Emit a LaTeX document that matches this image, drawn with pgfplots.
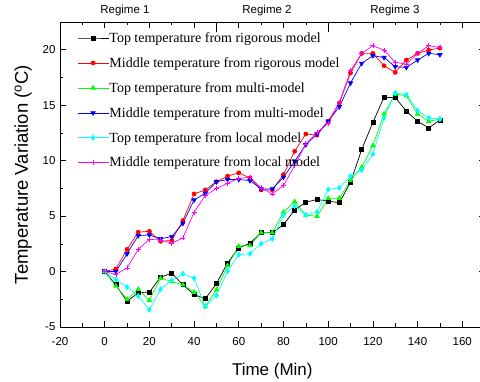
\documentclass[border=0pt]{standalone}
\usepackage{fontspec}
\setmainfont{Liberation Sans}
\newfontfamily\legfont{Liberation Serif}
\usepackage{pgfplots}
\pgfplotsset{compat=1.18}
\definecolor{cyanA}{RGB}{0,255,255}
\definecolor{magA}{RGB}{255,0,255}
\definecolor{greenA}{RGB}{0,255,0}
\definecolor{redA}{RGB}{255,0,0}
\definecolor{blueA}{RGB}{0,0,255}
\pgfplotstableread{
t black red green blue cyan magenta
0 0 0 0 0 0 0
5 -1.2 0.24 -1.3 0 -0.72 -0.27
10 -2.7 2.0 -2.5 1.6 -1.4 0.33
15 -1.9 3.55 -1.6 3.24 -2.2 2.0
20 -1.86 3.63 -2.6 3.3 -3.45 2.9
25 -0.5 2.73 -0.6 2.95 -1.6 2.85
30 -0.15 2.8 -0.9 3.15 -0.8 2.55
35 -1.2 4.6 -1.2 4.35 -0.2 3.03
40 -2.07 7.0 -1.86 6.45 -0.6 5.35
45 -2.46 7.36 -3.15 7.05 -3.15 6.85
50 -1.1 8.1 -1.65 8.1 -2.16 7.5
55 0.78 8.6 0.54 8.3 0.03 7.95
60 2.13 8.9 2.28 8.3 1.53 8.4
65 2.55 8.44 2.35 8.2 1.6 8.5
70 3.5 7.36 3.5 7.45 2.5 7.54
75 3.5 7.36 3.5 7.45 2.95 7.0
80 4.23 8.74 5.35 8.5 5.1 7.75
85 5.55 10.84 6.3 9.94 5.9 9.55
90 6.25 12.4 5.1 11.44 5.1 11.5
95 6.5 12.3 4.98 12.4 5.35 12.55
100 6.35 13.55 6.6 13.55 7.4 13.36
105 6.2 15.2 6.6 14.86 7.55 15.25
110 8.05 17.9 8.2 17.0 8.6 18.1
115 11.0 19.67 9.4 18.77 9.15 19.67
120 13.45 19.67 11.35 19.46 10.6 20.36
125 15.7 18.56 14.2 19.3 13.85 19.97
130 15.7 17.96 16.0 18.47 16.1 18.86
135 14.45 19.07 15.85 18.4 15.95 18.7
140 13.55 19.67 14.2 19.07 14.5 19.67
145 12.95 19.97 13.55 19.67 13.85 20.36
150 13.65 20.15 13.75 19.55 13.75 20.2
}\data
\begin{document}
\begin{tikzpicture}
\useasboundingbox (-60pt,-55pt) rectangle (420pt,327pt);
\begin{axis}[
  at={(0pt,0pt)}, anchor=south west,
  scale only axis, width=424.6pt, height=305pt,
  xmin=-20, xmax=170, ymin=-5, ymax=22.5,
  clip=false,
  xtick={-20,0,...,160}, minor xtick={-10,10,...,170},
  ytick={-5,0,...,20}, minor ytick={-2.5,2.5,...,22.5},
  tick align=inside, major tick length=6pt, minor tick length=3.5pt,
  axis line style={line width=0.8pt}, tick style={line width=0.6pt, black},
  /pgf/number format/assume math mode=true,
  ticklabel style={font=\fontsize{11.5}{11.5}\selectfont},
  xticklabel style={yshift=-7pt},
  yticklabel style={xshift=-1pt},
  xlabel={Time (Min)}, ylabel={Temperature Variation (\textsuperscript{o}C)},
  xlabel style={font=\fontsize{17}{17}\selectfont, yshift=-11pt},
  ylabel style={font=\fontsize{18.5}{18.5}\selectfont, yshift=4pt},
  every axis plot/.append style={line width=0.7pt, mark size=2pt},
  legend style={at={(0.033,0.975)}, anchor=north west, draw=none, fill=none,
    font=\legfont\fontsize{14}{14}\selectfont, row sep=12.6pt, nodes={inner sep=0.5pt}},
  legend cell align=left,
  legend image code/.code={\draw[mark repeat=2,mark phase=2] plot coordinates {(0pt,0pt) (15.5pt,0pt) (31pt,0pt)};},
]
\addplot[black, mark=square*] table[x=t,y=black]{\data};
\addlegendentry{Top temperature from rigorous model}
\addplot[redA, mark=*] table[x=t,y=red]{\data};
\addlegendentry{Middle temperature from rigorous model}
\addplot[greenA, mark=triangle*, mark size=2.5pt] table[x=t,y=green]{\data};
\addlegendentry{Top temperature from multi-model}
\addplot[blueA, mark=triangle*, mark size=2.5pt, every mark/.append style={rotate=180}] table[x=t,y=blue]{\data};
\addlegendentry{Middle temperature from multi-model}
\addplot[cyanA, mark=diamond*, mark size=2.5pt] table[x=t,y=cyan]{\data};
\addlegendentry{Top temperature from local model}
\addplot[magA, mark=+, mark size=2.5pt] table[x=t,y=magenta]{\data};
\addlegendentry{Middle temperature from local model}
\draw[line width=0.6pt] (axis cs:50,22.5) -- ++(0pt,-10pt);
\draw[line width=0.6pt] (axis cs:100,22.5) -- ++(0pt,-10pt);
\node[font=\fontsize{11.5}{11.5}\selectfont] at ([yshift=11pt]rel axis cs:0.153,1) {Regime 1};
\node[font=\fontsize{11.5}{11.5}\selectfont] at ([yshift=11pt]rel axis cs:0.4875,1) {Regime 2};
\node[font=\fontsize{11.5}{11.5}\selectfont] at ([yshift=11pt]rel axis cs:0.789,1) {Regime 3};
\end{axis}
\end{tikzpicture}
\end{document}
